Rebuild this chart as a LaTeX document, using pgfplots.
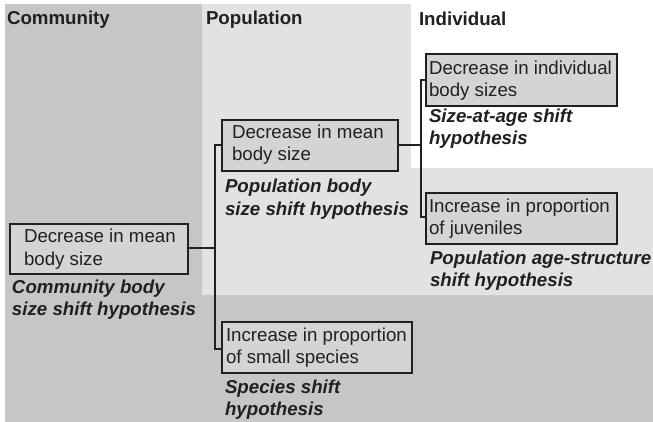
\documentclass[border=0pt]{standalone}
\usepackage{pgfplots}
\pgfplotsset{compat=1.18}
\usepackage{fontspec}
\setmainfont{Liberation Sans}
\definecolor{darkbg}{HTML}{C5C6C8}
\definecolor{lightbg}{HTML}{E1E2E4}
\definecolor{boxfill}{HTML}{D3D4D6}
\definecolor{ink}{HTML}{231F20}
\tikzset{lbl/.style={anchor=base west, inner sep=0pt, outer sep=0pt, text=ink, font=\fontsize{18.7}{22}\selectfont}}
\begin{document}
\begin{tikzpicture}
\begin{axis}[
  width=653pt, height=422pt, scale only axis,
  xmin=0, xmax=653, ymin=0, ymax=422, y dir=reverse,
  hide axis, clip=false,
]
% frame to fix the extent
\addplot[draw=none, forget plot] coordinates {(0,0) (653,422)};
% backgrounds
\addplot[fill=darkbg, draw=none] coordinates {(5,4) (653,4) (653,422) (5,422)} -- cycle;
\addplot[fill=lightbg, draw=none] coordinates {(202,4) (411,4) (411,168) (653,168) (653,295) (202,295)} -- cycle;
\addplot[fill=white, draw=none] coordinates {(411,4) (653,4) (653,168) (411,168)} -- cycle;
% boxes
\addplot[fill=boxfill, draw=ink, line width=2.6pt, line join=miter] coordinates {(10,224) (188,224) (188,274) (10,274)} -- cycle;
\addplot[fill=boxfill, draw=ink, line width=2.6pt, line join=miter] coordinates {(222,120) (398,120) (398,171) (222,171)} -- cycle;
\addplot[fill=boxfill, draw=ink, line width=2.6pt, line join=miter] coordinates {(222,322) (412,322) (412,373) (222,373)} -- cycle;
\addplot[fill=boxfill, draw=ink, line width=2.6pt, line join=miter] coordinates {(426,54) (617,54) (617,106) (426,106)} -- cycle;
\addplot[fill=boxfill, draw=ink, line width=2.6pt, line join=miter] coordinates {(426,193) (617,193) (617,244) (426,244)} -- cycle;
% connectors
\addplot[draw=ink, line width=2.3pt] coordinates {(188,248) (215,248)};
\addplot[draw=ink, line width=2.3pt, line join=miter] coordinates {(222,145) (215,145) (215,349) (222,349)};
\addplot[draw=ink, line width=2.3pt] coordinates {(398,145) (421,145)};
\addplot[draw=ink, line width=2.3pt, line join=miter] coordinates {(426,80) (421,80) (421,217) (426,217)};
% headers
\node[lbl] at (axis cs:7,25) {\bfseries Community};
\node[lbl] at (axis cs:206,25) {\bfseries Population};
\node[lbl] at (axis cs:419,26) {\bfseries Individual};
% community box
\node[lbl] at (axis cs:24,243) {Decrease in mean};
\node[lbl] at (axis cs:24,265) {body size};
\node[lbl] at (axis cs:12,293) {\bfseries\itshape Community body};
\node[lbl] at (axis cs:12,315) {\bfseries\itshape size shift hypothesis};
% population top
\node[lbl] at (axis cs:232,139) {Decrease in mean};
\node[lbl] at (axis cs:232,161) {body size};
\node[lbl] at (axis cs:225,193) {\bfseries\itshape Population body};
\node[lbl] at (axis cs:225,215) {\bfseries\itshape size shift hypothesis};
% population bottom
\node[lbl] at (axis cs:226,341) {Increase in proportion};
\node[lbl] at (axis cs:226,363) {of small species};
\node[lbl] at (axis cs:225,393) {\bfseries\itshape Species shift};
\node[lbl] at (axis cs:225,415) {\bfseries\itshape hypothesis};
% individual top
\node[lbl] at (axis cs:429,75) {Decrease in individual};
\node[lbl] at (axis cs:429,97) {body sizes};
\node[lbl] at (axis cs:429,123) {\bfseries\itshape Size-at-age shift};
\node[lbl] at (axis cs:429,145) {\bfseries\itshape hypothesis};
% individual bottom
\node[lbl] at (axis cs:429,212) {Increase in proportion};
\node[lbl] at (axis cs:429,234) {of juveniles};
\node[lbl] at (axis cs:430,264) {\bfseries\itshape Population age-structure};
\node[lbl] at (axis cs:430,286) {\bfseries\itshape shift hypothesis};
\end{axis}
\end{tikzpicture}
\end{document}
